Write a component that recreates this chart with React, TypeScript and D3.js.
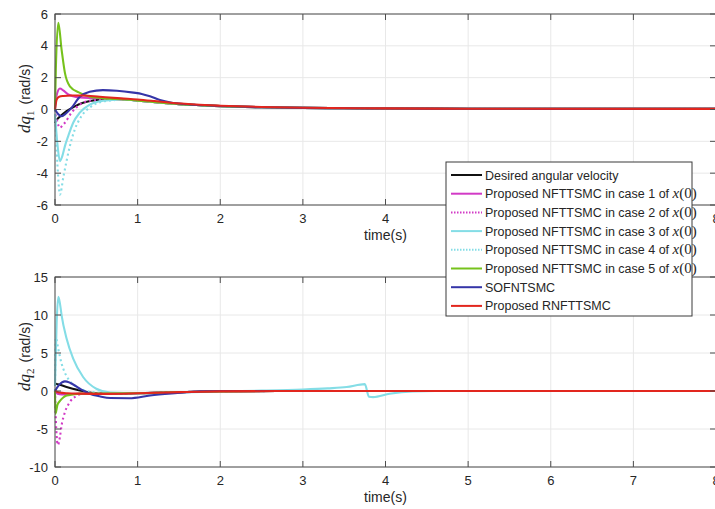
import React from "react";
import * as d3 from "d3";

// time axis and tick values
const timeTicks = [0, 1, 2, 3, 4, 5, 6, 7, 8];
const q1Ticks = [-6, -4, -2, 0, 2, 4, 6];
const q2Ticks = [-10, -5, 0, 5, 10, 15];

const legendLabels = [
  "Desired angular velocity",
  "Proposed NFTTSMC in case 1 of ",
  "Proposed NFTTSMC in case 2 of ",
  "Proposed NFTTSMC in case 3 of ",
  "Proposed NFTTSMC in case 4 of ",
  "Proposed NFTTSMC in case 5 of ",
  "SOFNTSMC",
  "Proposed RNFTTSMC",
];
const seriesColors = ["#111111", "#d23ac6", "#d23ac6", "#84dde6", "#84dde6", "#76c21c", "#3535a8", "#e2261e"];
const seriesDotted = [false, false, true, false, true, false, false, false];

// dq1, shared tail after the transient
const q1Tail = [
  [0.8, 0.64], [1, 0.56], [1.25, 0.44], [1.5, 0.34], [1.75, 0.27], [2, 0.21], [2.5, 0.14],
  [3, 0.1], [3.5, 0.08], [4, 0.06], [5, 0.05], [6, 0.04], [7, 0.04], [8, 0.04],
];
const q1Desired = [[0, -0.85], [0.01, -0.73], [0.07, -0.4], [0.14, -0.1], [0.24, 0.2], [0.34, 0.42], [0.44, 0.55], [0.54, 0.62], [0.7, 0.65]];
const q1Case1 = [[0, 0], [0.02, 0.9], [0.06, 1.32], [0.1, 1.2], [0.16, 0.95], [0.22, 0.83], [0.3, 0.76], [0.45, 0.72], [0.6, 0.7], [0.7, 0.67]];
const q1Case2 = [[0, 0], [0.03, -0.8], [0.06, -1.15], [0.09, -1.0], [0.12, -0.83], [0.2, -0.2], [0.3, 0.31], [0.42, 0.55], [0.55, 0.62], [0.7, 0.65]];
const q1Case3 = [[0, -0.3], [0.03, -2.2], [0.06, -3.25], [0.09, -2.9], [0.12, -2.3], [0.16, -1.67], [0.22, -0.83], [0.3, -0.2], [0.42, 0.31], [0.54, 0.52], [0.7, 0.6]];
const q1Case4 = [[0, 0], [0.03, -3.5], [0.06, -5.35], [0.1, -4.27], [0.14, -3.23], [0.18, -2.3], [0.24, -1.25], [0.32, -0.42], [0.44, 0.2], [0.58, 0.5], [0.7, 0.58]];
const q1Case5 = [[0, 0], [0.01, 2.5], [0.04, 5.45], [0.08, 3.75], [0.12, 2.3], [0.18, 1.46], [0.3, 1.04], [0.42, 0.8], [0.6, 0.7], [0.7, 0.67]];
const q1Sof = [
  [0, 0], [0.04, -0.3], [0.08, -0.42], [0.12, -0.3], [0.2, 0.1], [0.3, 0.8], [0.42, 1.12], [0.58, 1.22],
  [0.75, 1.18], [0.95, 1.06], [1.05, 0.98], [1.15, 0.83], [1.27, 0.6], [1.4, 0.44], [1.6, 0.33], [2, 0.22],
  [2.5, 0.14], [3, 0.1], [3.5, 0.08], [4, 0.06], [5, 0.05], [6, 0.04], [7, 0.04], [8, 0.04],
];
const q1Rnf = [
  [0, 0], [0.02, 0.62], [0.05, 0.8], [0.1, 0.85], [0.2, 0.88], [0.34, 0.88], [0.54, 0.8], [0.8, 0.7],
  [1, 0.63], [1.2, 0.53], [1.4, 0.42], [1.7, 0.31], [2, 0.24], [2.5, 0.16], [3, 0.11], [4, 0.07],
  [5, 0.05], [8, 0.04],
];

// dq2
const q2Tail = [[1, -0.3], [1.5, -0.15], [2, -0.05], [3, 0], [8, 0]];
const q2Desired = [[0, 1.0], [0.05, 0.85], [0.14, 0.53], [0.3, 0.08], [0.46, -0.26], [0.7, -0.35]];
const q2Case1 = [[0, 0], [0.03, -0.35], [0.08, -0.45], [0.2, -0.4], [0.4, -0.35], [0.7, -0.33]];
const q2Case2 = [[0, 0], [0.015, -5], [0.035, -7.1], [0.06, -6.0], [0.08, -4.5], [0.12, -2.8], [0.18, -1.45], [0.26, -0.66], [0.38, -0.25], [0.6, -0.32]];
const q2Case3 = [
  [0, 0.7], [0.02, 9], [0.04, 12.4], [0.06, 11.5], [0.08, 9.95], [0.14, 6.9], [0.22, 4.25], [0.34, 1.84],
  [0.5, 0.3], [0.67, -0.2], [1, -0.3], [1.5, -0.2], [2, -0.05], [2.5, 0.05], [3, 0.2], [3.3, 0.35],
  [3.53, 0.52], [3.75, 0.9], [3.8, -0.75], [3.85, -0.8], [4.05, -0.36], [4.33, -0.05], [4.6, 0], [8, 0],
];
const q2Case4 = [[0, 0], [0.01, 7], [0.04, 5.5], [0.08, 3.6], [0.12, 2.4], [0.16, 1.6], [0.24, 0.7], [0.35, 0.1], [0.5, -0.2], [0.7, -0.3]];
const q2Case5 = [[0, 0], [0.005, -3.0], [0.03, -1.8], [0.06, -1.3], [0.1, -0.85], [0.14, -0.6], [0.22, -0.45], [0.3, -0.35], [0.5, -0.33]];
const q2Sof = [
  [0, 0], [0.05, 0.8], [0.12, 1.26], [0.18, 1.1], [0.3, 0.3], [0.42, -0.36], [0.54, -0.7], [0.67, -0.93],
  [0.9, -0.95], [1.15, -0.6], [1.45, -0.3], [1.75, -0.05], [2, 0], [8, 0],
];
const q2Rnf = [[0, 0], [0.05, -0.2], [0.15, -0.3], [0.3, -0.35], [0.6, -0.38], [1, -0.3], [1.5, -0.15], [2, -0.05], [3, 0], [8, 0]];

const q1Series = [
  q1Desired.concat(q1Tail), q1Case1.concat(q1Tail), q1Case2.concat(q1Tail), q1Case3.concat(q1Tail),
  q1Case4.concat(q1Tail), q1Case5.concat(q1Tail), q1Sof, q1Rnf,
];
const q2Series = [
  q2Desired.concat(q2Tail), q2Case1.concat(q2Tail), q2Case2.concat(q2Tail), q2Case3,
  q2Case4.concat(q2Tail), q2Case5.concat(q2Tail), q2Sof, q2Rnf,
];

const W = 715;
const H = 509;
const left = 55;
const right = 716;
const sans = "'Liberation Sans', Arial, Helvetica, sans-serif";
const serif = "'Liberation Serif', 'Times New Roman', serif";
const axisColor = "#4d4d4d";
const textColor = "#262626";

type PanelProps = {
  top: number;
  bottom: number;
  yDomain: [number, number];
  yTicks: number[];
  series: number[][][];
  sub: string;
  labelY: number;
};

const Panel = ({ top, bottom, yDomain, yTicks, series, sub, labelY }: PanelProps) => {
  const x = d3.scaleLinear().domain([0, 8]).range([left, right]);
  const y = d3.scaleLinear().domain(yDomain).range([bottom, top]);
  const line = d3
    .line<number[]>()
    .x((d) => x(d[0]))
    .y((d) => y(d[1]))
    .curve(d3.curveMonotoneX);
  const tick = 6;
  return (
    <g>
      {/* grid */}
      {timeTicks.map((t) => (
        <line key={"gx" + t} x1={x(t)} x2={x(t)} y1={top} y2={bottom} stroke="#e8e8e8" strokeWidth={1} />
      ))}
      {yTicks.map((v) => (
        <line key={"gy" + v} x1={left} x2={right} y1={y(v)} y2={y(v)} stroke="#e8e8e8" strokeWidth={1} />
      ))}
      {/* data */}
      {series.map((s, i) => (
        <path
          key={i}
          d={line(s) || ""}
          fill="none"
          stroke={seriesColors[i]}
          strokeWidth={2.1}
          strokeDasharray={seriesDotted[i] ? "2 3" : undefined}
          strokeLinejoin="round"
        />
      ))}
      {/* box */}
      <rect x={left} y={top} width={right - left} height={bottom - top} fill="none" stroke={axisColor} strokeWidth={1} />
      {timeTicks.map((t) => (
        <g key={"tx" + t}>
          <line x1={x(t)} x2={x(t)} y1={bottom} y2={bottom - tick} stroke={axisColor} />
          <line x1={x(t)} x2={x(t)} y1={top} y2={top + tick} stroke={axisColor} />
          <text x={x(t)} y={bottom + 18} textAnchor="middle" fontFamily={sans} fontSize={13} fill={textColor}>
            {t}
          </text>
        </g>
      ))}
      {yTicks.map((v) => (
        <g key={"ty" + v}>
          <line x1={left} x2={left + tick} y1={y(v)} y2={y(v)} stroke={axisColor} />
          <line x1={right} x2={right - tick} y1={y(v)} y2={y(v)} stroke={axisColor} />
          <text x={left - 7} y={y(v) + 4.5} textAnchor="end" fontFamily={sans} fontSize={13} fill={textColor}>
            {v}
          </text>
        </g>
      ))}
      <text x={(left + right) / 2} y={bottom + 35} textAnchor="middle" fontFamily={sans} fontSize={14} fill={textColor}>
        time(s)
      </text>
      <text transform={`translate(30,${labelY}) rotate(-90)`} fill={textColor}>
        <tspan fontFamily={serif} fontStyle="italic" fontSize={17}>dq</tspan>
        <tspan fontFamily={serif} fontSize={11} dy={4}>{sub}</tspan>
        <tspan fontFamily={sans} fontSize={14} dy={-4} dx={6}>(rad/s)</tspan>
      </text>
    </g>
  );
};

const Legend = () => {
  const lx = 446;
  const ly = 162;
  const row = 18.7;
  return (
    <g>
      <rect x={lx} y={ly} width={246} height={154} fill="#ffffff" stroke="#3a3a3a" strokeWidth={1} />
      {legendLabels.map((lab, i) => {
        const cy = ly + 13 + i * row;
        return (
          <g key={i}>
            <line
              x1={lx + 5}
              x2={lx + 36}
              y1={cy}
              y2={cy}
              stroke={seriesColors[i]}
              strokeWidth={2}
              strokeDasharray={seriesDotted[i] ? "1.5 1.5" : undefined}
            />
            <text x={lx + 39} y={cy + 4.5} fontFamily={sans} fontSize={12.5} fill={textColor}>
              {lab}
              {i >= 1 && i <= 5 ? (
                <>
                  <tspan fontFamily={serif} fontStyle="italic" fontSize={15}>x</tspan>
                  <tspan fontFamily={serif} fontSize={15}>(0)</tspan>
                </>
              ) : null}
            </text>
          </g>
        );
      })}
    </g>
  );
};

export default function App() {
  return (
    <svg
      width={W}
      height={H}
      viewBox={`0 0 ${W} ${H}`}
      style={{ position: "absolute", left: 0, top: 0, display: "block", background: "#fff" }}
    >
      <rect width={W} height={H} fill="#ffffff" />
      <Panel top={14} bottom={205} yDomain={[-6, 6]} yTicks={q1Ticks} series={q1Series} sub="1" labelY={133} />
      <Panel top={277} bottom={467} yDomain={[-10, 15]} yTicks={q2Ticks} series={q2Series} sub="2" labelY={391} />
      <Legend />
    </svg>
  );
}
